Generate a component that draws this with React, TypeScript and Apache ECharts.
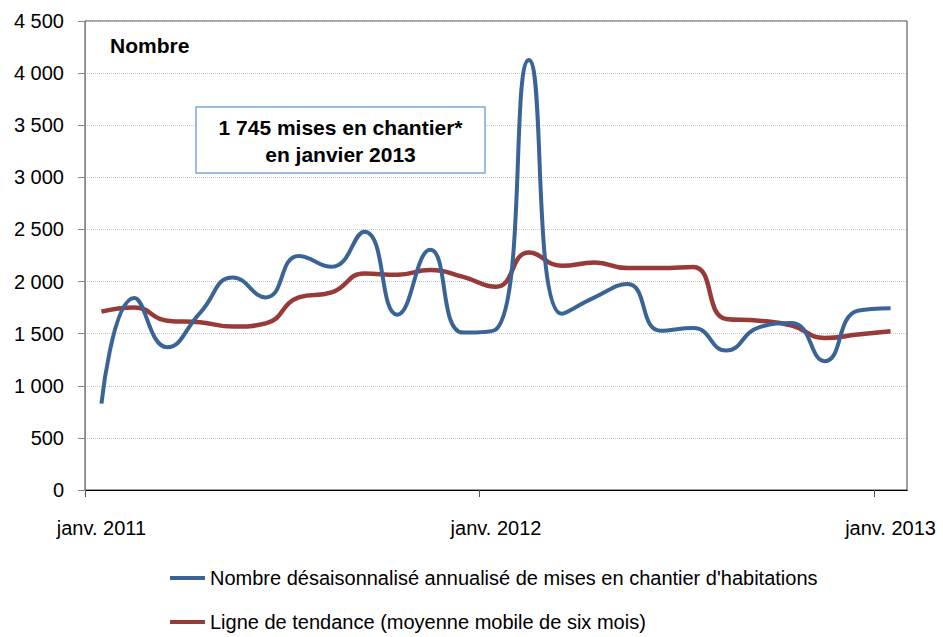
import React, { useEffect, useRef } from 'react';
import * as echarts from 'echarts';

const categories = [
  'janv. 2011', 'févr. 2011', 'mars 2011', 'avr. 2011', 'mai 2011', 'juin 2011',
  'juil. 2011', 'août 2011', 'sept. 2011', 'oct. 2011', 'nov. 2011', 'déc. 2011',
  'janv. 2012', 'févr. 2012', 'mars 2012', 'avr. 2012', 'mai 2012', 'juin 2012',
  'juil. 2012', 'août 2012', 'sept. 2012', 'oct. 2012', 'nov. 2012', 'déc. 2012',
  'janv. 2013',
];

const startsValues = [
  829, 1842, 1370, 1700, 2039, 1848, 2246, 2141, 2479, 1682, 2304, 1510,
  1540, 4126, 1690, 1848, 1976, 1529, 1555, 1338, 1561, 1603, 1236, 1720,
  1745,
];

const trendValues = [
  1711, 1752, 1625, 1609, 1568, 1599, 1848, 1896, 2077, 2065, 2110, 2045,
  1950, 2278, 2151, 2183, 2129, 2129, 2140, 1641, 1625, 1577, 1459, 1491,
  1523,
];

const startsName = "Nombre désaisonnalisé annualisé de mises en chantier d'habitations";
const trendName = 'Ligne de tendance (moyenne mobile de six mois)';
const unitLabel = 'Nombre';
const annotationLines = ['1 745 mises en chantier*', 'en janvier 2013'];

const yMin = 0;
const yMax = 4500;
const yStep = 500;

const FONT = "'Liberation Sans', Arial, sans-serif";

function formatThousands(v: number): string {
  const s = String(v);
  return s.length > 3 ? s.slice(0, -3) + ' ' + s.slice(-3) : s;
}

const legendCommon = {
  orient: 'horizontal',
  left: 170,
  padding: 0,
  itemWidth: 35,
  itemHeight: 4,
  icon: 'rect',
  textStyle: { fontSize: 20, color: '#000', fontFamily: FONT },
};

export default function App() {
  const ref = useRef<HTMLDivElement>(null);

  useEffect(() => {
    if (!ref.current) return;
    const chart = echarts.init(ref.current, undefined, { renderer: 'svg' });
    chart.setOption({
      animation: false,
      backgroundColor: '#ffffff',
      textStyle: { fontFamily: FONT },
      grid: {
        left: 85,
        right: 36,
        top: 21,
        bottom: 147,
        show: true,
        borderColor: '#404040',
        borderWidth: 1,
        backgroundColor: 'transparent',
      },
      xAxis: {
        type: 'category',
        data: categories,
        boundaryGap: true,
        axisLine: { show: true, lineStyle: { color: '#000', width: 1 } },
        axisTick: { show: true, interval: 11, length: 7, lineStyle: { color: '#555' } },
        axisLabel: { interval: 11, fontSize: 20, color: '#000', margin: 28, fontFamily: FONT },
        splitLine: { show: false },
      },
      yAxis: {
        type: 'value',
        min: yMin,
        max: yMax,
        interval: yStep,
        axisLine: { show: true, lineStyle: { color: '#868686', width: 1 } },
        axisTick: { show: true, length: 7, lineStyle: { color: '#868686' } },
        axisLabel: {
          fontSize: 20,
          color: '#000',
          margin: 21,
          fontFamily: FONT,
          formatter: (v: number) => formatThousands(v),
        },
        splitLine: { show: true, lineStyle: { color: '#c4c4c4', type: 'dotted', width: 1 } },
      },
      legend: [
        { ...legendCommon, top: 568, data: [{ name: startsName }] },
        { ...legendCommon, top: 612, data: [{ name: trendName }] },
      ],
      graphic: [
        {
          type: 'text',
          left: 110,
          top: 35,
          style: { text: unitLabel, font: `bold 21px ${FONT}`, fill: '#000' },
        },
        {
          type: 'rect',
          z: 10,
          shape: { x: 196, y: 107, width: 289, height: 66 },
          style: { fill: '#fff', stroke: '#7FA5DC', lineWidth: 1.5 },
        },
        {
          type: 'text',
          z: 11,
          x: 340.5,
          y: 127,
          style: {
            text: annotationLines[0],
            font: `bold 21px ${FONT}`,
            fill: '#000',
            textAlign: 'center',
            textVerticalAlign: 'middle',
            align: 'center',
            verticalAlign: 'middle',
          },
        },
        {
          type: 'text',
          z: 11,
          x: 340.5,
          y: 154,
          style: {
            text: annotationLines[1],
            font: `bold 21px ${FONT}`,
            fill: '#000',
            textAlign: 'center',
            textVerticalAlign: 'middle',
            align: 'center',
            verticalAlign: 'middle',
          },
        },
        {
          type: 'rect',
          z: 100,
          shape: { x: 903, y: 491, width: 8, height: 10 },
          style: { fill: '#fff' },
        },
      ],
      series: [
        {
          name: startsName,
          type: 'line',
          data: startsValues,
          smooth: 0.5,
          symbol: 'none',
          showSymbol: false,
          color: '#3A6496',
          lineStyle: { color: '#3A6496', width: 4 },
          z: 3,
        },
        {
          name: trendName,
          type: 'line',
          data: trendValues,
          smooth: 0.5,
          symbol: 'none',
          showSymbol: false,
          color: '#983A38',
          lineStyle: { color: '#983A38', width: 4.5 },
          z: 2,
        },
      ],
    });
    return () => chart.dispose();
  }, []);

  return (
    <div
      ref={ref}
      style={{ position: 'fixed', left: 0, top: 0, width: 943, height: 637, background: '#fff' }}
    />
  );
}
